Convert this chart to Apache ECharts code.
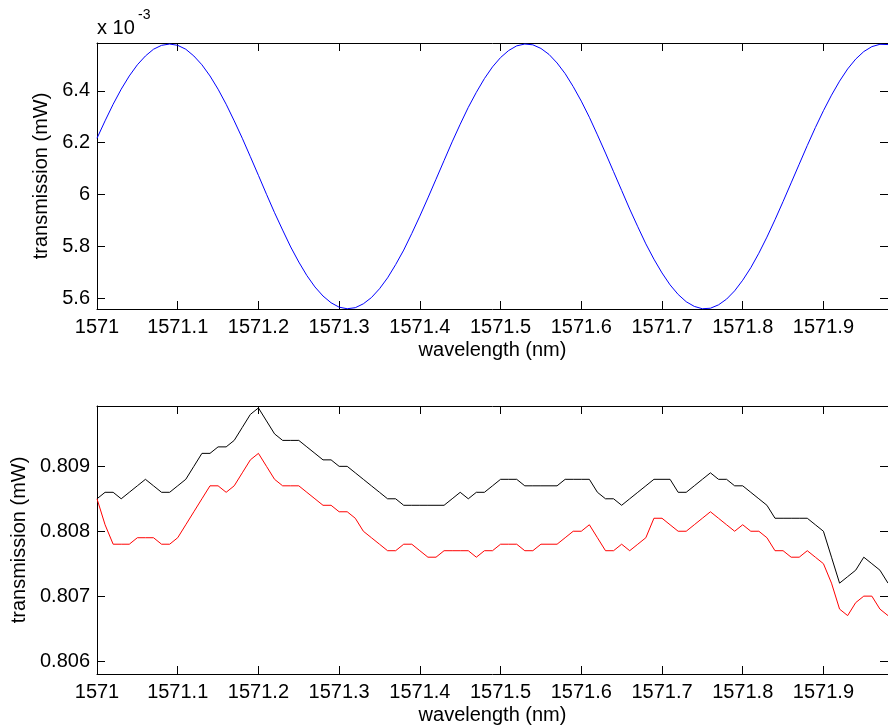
<!DOCTYPE html>
<html>
<head>
<meta charset="utf-8">
<script src="https://cdn.jsdelivr.net/npm/echarts@6/dist/echarts.min.js"></script>
<style>
html,body{margin:0;padding:0;background:#fff;}
#chart{width:888px;height:728px;}
</style>
</head>
<body>
<div id="chart"></div>
<script>
// wavelength samples (nm), shared by both panels
const wavelength = [
1571.00,1571.01,1571.02,1571.03,1571.04,1571.05,1571.06,1571.07,1571.08,1571.09,
1571.10,1571.11,1571.12,1571.13,1571.14,1571.15,1571.16,1571.17,1571.18,1571.19,
1571.20,1571.21,1571.22,1571.23,1571.24,1571.25,1571.26,1571.27,1571.28,1571.29,
1571.30,1571.31,1571.32,1571.33,1571.34,1571.35,1571.36,1571.37,1571.38,1571.39,
1571.40,1571.41,1571.42,1571.43,1571.44,1571.45,1571.46,1571.47,1571.48,1571.49,
1571.50,1571.51,1571.52,1571.53,1571.54,1571.55,1571.56,1571.57,1571.58,1571.59,
1571.60,1571.61,1571.62,1571.63,1571.64,1571.65,1571.66,1571.67,1571.68,1571.69,
1571.70,1571.71,1571.72,1571.73,1571.74,1571.75,1571.76,1571.77,1571.78,1571.79,
1571.80,1571.81,1571.82,1571.83,1571.84,1571.85,1571.86,1571.87,1571.88,1571.89,
1571.90,1571.91,1571.92,1571.93,1571.94,1571.95,1571.96,1571.97,1571.98
];

// top panel: transmission in units of 1e-3 mW
const transTop = [
6.217,6.284,6.348,6.406,6.457,6.500,6.534,6.560,6.575,6.580,
6.575,6.560,6.534,6.500,6.457,6.406,6.348,6.284,6.217,6.146,
6.074,6.001,5.930,5.863,5.798,5.740,5.688,5.644,5.609,5.583,
5.566,5.560,5.564,5.579,5.603,5.637,5.679,5.730,5.786,5.850,
5.917,5.987,6.059,6.131,6.203,6.271,6.336,6.394,6.447,6.492,
6.528,6.555,6.573,6.580,6.577,6.563,6.540,6.507,6.466,6.416,
6.360,6.298,6.230,6.160,6.088,6.016,5.944,5.876,5.810,5.751,
5.698,5.652,5.615,5.587,5.569,5.560,5.562,5.575,5.597,5.629,
5.670,5.718,5.774,5.836,5.903,5.973,6.045,6.117,6.189,6.258,
6.323,6.383,6.437,6.484,6.522,6.551,6.570,6.579,6.578
];

// bottom panel: black trace (mW)
const transBlack = [
0.8085,0.8086,0.8086,0.8085,0.8086,0.8087,0.8088,0.8087,0.8086,0.8086,
0.8087,0.8088,0.8090,0.8092,0.8092,0.8093,0.8093,0.8094,0.8096,0.8098,
0.8099,0.8097,0.8095,0.8094,0.8094,0.8094,0.8093,0.8092,0.8091,0.8091,
0.8090,0.8090,0.8089,0.8088,0.8087,0.8086,0.8085,0.8085,0.8084,0.8084,
0.8084,0.8084,0.8084,0.8084,0.8085,0.8086,0.8085,0.8086,0.8086,0.8087,
0.8088,0.8088,0.8088,0.8087,0.8087,0.8087,0.8087,0.8087,0.8088,0.8088,
0.8088,0.8088,0.8086,0.8085,0.8085,0.8084,0.8085,0.8086,0.8087,0.8088,
0.8088,0.8088,0.8086,0.8086,0.8087,0.8088,0.8089,0.8088,0.8088,0.8087,
0.8087,0.8086,0.8085,0.8084,0.8082,0.8082,0.8082,0.8082,0.8082,0.8081,
0.8080,0.8076,0.8072,0.8073,0.8074,0.8076,0.8075,0.8074,0.8072
];

// bottom panel: red trace (mW)
const transRed = [
0.8085,0.8081,0.8078,0.8078,0.8078,0.8079,0.8079,0.8079,0.8078,0.8078,
0.8079,0.8081,0.8083,0.8085,0.8087,0.8087,0.8086,0.8087,0.8089,0.8091,
0.8092,0.8090,0.8088,0.8087,0.8087,0.8087,0.8086,0.8085,0.8084,0.8084,
0.8083,0.8083,0.8082,0.8080,0.8079,0.8078,0.8077,0.8077,0.8078,0.8078,
0.8077,0.8076,0.8076,0.8077,0.8077,0.8077,0.8077,0.8076,0.8077,0.8077,
0.8078,0.8078,0.8078,0.8077,0.8077,0.8078,0.8078,0.8078,0.8079,0.8080,
0.8080,0.8081,0.8079,0.8077,0.8077,0.8078,0.8077,0.8078,0.8079,0.8082,
0.8082,0.8081,0.8080,0.8080,0.8081,0.8082,0.8083,0.8082,0.8081,0.8080,
0.8081,0.8080,0.8080,0.8079,0.8077,0.8077,0.8076,0.8076,0.8077,0.8076,
0.8075,0.8072,0.8068,0.8067,0.8069,0.8070,0.8070,0.8068,0.8067
];

// tick values
const xTicks = [1571,1571.1,1571.2,1571.3,1571.4,1571.5,1571.6,1571.7,1571.8,1571.9];
const xTickLabels = ['1571','1571.1','1571.2','1571.3','1571.4','1571.5','1571.6','1571.7','1571.8','1571.9'];
const yTicksTop = [5.6,5.8,6,6.2,6.4];
const yTickLabelsTop = ['5.6','5.8','6','6.2','6.4'];
const yTicksBottom = [0.806,0.807,0.808,0.809];
const yTickLabelsBottom = ['0.806','0.807','0.808','0.809'];

const FONT = 'Arial, "Liberation Sans", Helvetica, sans-serif';
const FS = 20;
const XMIN = 1571, XMAX = 1571.98;

function labelFor(values, labels) {
  return function (v) {
    for (let i = 0; i < values.length; i++) {
      if (Math.abs(values[i] - v) < 1e-9) return labels[i];
    }
    return '';
  };
}

function xAxisMain(grid) {
  return {
    type: 'value', gridIndex: grid, position: 'bottom', min: XMIN, max: XMAX,
    name: 'wavelength (nm)', nameLocation: 'middle', nameGap: 31,
    nameTextStyle: {fontFamily: FONT, fontSize: FS, color: '#000'},
    axisLine: {show: true, onZero: false, lineStyle: {color: '#000', width: 1}},
    axisTick: {show: true, inside: true, length: 8, customValues: xTicks, lineStyle: {color: '#000'}},
    axisLabel: {show: true, margin: 8, fontFamily: FONT, fontSize: FS, color: '#000',
      customValues: xTicks, formatter: labelFor(xTicks, xTickLabels)},
    splitLine: {show: false}
  };
}
function xAxisMirror(grid) {
  return {
    type: 'value', gridIndex: grid, position: 'top', min: XMIN, max: XMAX,
    axisLine: {show: true, onZero: false, lineStyle: {color: '#000', width: 1}},
    axisTick: {show: true, inside: true, length: 8, customValues: xTicks, lineStyle: {color: '#000'}},
    axisLabel: {show: false},
    splitLine: {show: false}
  };
}
function yAxisMain(grid, mn, mx, ticks, labels) {
  return {
    type: 'value', gridIndex: grid, position: 'left', min: mn, max: mx,
    name: 'transmission (mW)', nameLocation: 'middle', nameGap: 43,
    nameTextStyle: {fontFamily: FONT, fontSize: FS, color: '#000'},
    axisLine: {show: true, onZero: false, lineStyle: {color: '#000', width: 1}},
    axisTick: {show: true, inside: true, length: 8, customValues: ticks, lineStyle: {color: '#000'}},
    axisLabel: {show: true, margin: 7, fontFamily: FONT, fontSize: FS, color: '#000',
      customValues: ticks, formatter: labelFor(ticks, labels)},
    splitLine: {show: false}
  };
}
function yAxisMirror(grid, mn, mx, ticks) {
  return {
    type: 'value', gridIndex: grid, position: 'right', min: mn, max: mx,
    axisLine: {show: true, onZero: false, lineStyle: {color: '#000', width: 1}},
    axisTick: {show: true, inside: true, length: 8, customValues: ticks, lineStyle: {color: '#000'}},
    axisLabel: {show: false},
    splitLine: {show: false}
  };
}

function pairs(xs, ys) { return ys.map((y, i) => [xs[i], y]); }

const chart = echarts.init(document.getElementById('chart'), null, {renderer: 'canvas'});
chart.setOption({
  animation: false,
  backgroundColor: '#fff',
  grid: [
    {left: 97, top: 43, width: 792, height: 266, containLabel: false},
    {left: 97, top: 406, width: 792, height: 268, containLabel: false}
  ],
  xAxis: [xAxisMain(0), xAxisMain(1), xAxisMirror(0), xAxisMirror(1)],
  yAxis: [
    yAxisMain(0, 5.559, 6.584, yTicksTop, yTickLabelsTop),
    yAxisMain(1, 0.8058, 0.80993, yTicksBottom, yTickLabelsBottom),
    yAxisMirror(0, 5.559, 6.584, yTicksTop),
    yAxisMirror(1, 0.8058, 0.80993, yTicksBottom)
  ],
  graphic: [
    {type: 'text', left: 97, top: 18, style: {text: 'x 10', fontFamily: FONT, fontSize: 20, fill: '#000'}},
    {type: 'text', left: 138, top: 8, style: {text: '-3', fontFamily: FONT, fontSize: 14, fill: '#000'}}
  ],
  series: [
    {type: 'line', xAxisIndex: 0, yAxisIndex: 0, data: pairs(wavelength, transTop),
      showSymbol: false, symbol: 'none', smooth: false, lineStyle: {color: '#0000ff', width: 1}},
    {type: 'line', xAxisIndex: 1, yAxisIndex: 1, data: pairs(wavelength, transBlack),
      showSymbol: false, symbol: 'none', lineStyle: {color: '#000000', width: 1}},
    {type: 'line', xAxisIndex: 1, yAxisIndex: 1, data: pairs(wavelength, transRed),
      showSymbol: false, symbol: 'none', lineStyle: {color: '#ff0000', width: 1}}
  ]
});
</script>
</body>
</html>
